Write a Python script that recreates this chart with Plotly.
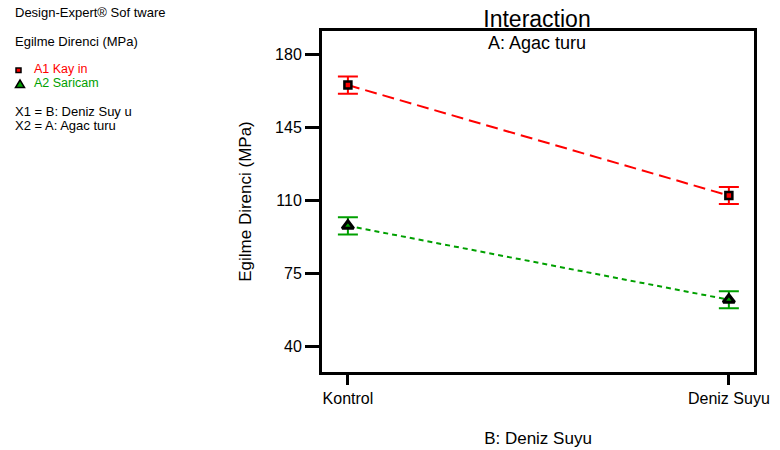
import plotly.graph_objects as go

categories = ["Kontrol", "Deniz Suyu"]
a1_kayin = [165.3, 112.4]
a1_err = [4.1, 4.1]
a2_saricam = [97.9, 62.5]
a2_err = [4.1, 4.1]
y_ticks = [40, 75, 110, 145, 180]

FONT = "Liberation Sans, Arial, sans-serif"
L, R, T, B = 322, 26, 31, 78
W, H = 780, 450
PW, PH = W - L - R, H - T - B


def px(x):
    return (x - L) / PW


def py(y):
    return (H - B - y) / PH


xnum = list(range(len(categories)))

fig = go.Figure()
fig.add_trace(go.Scatter(
    x=xnum, y=a1_kayin, mode="lines+markers", name="A1 Kayin",
    line=dict(color="#ff0000", width=2, dash="12px,6px"),
    marker=dict(symbol="square", size=7, color="#ff0000", line=dict(color="black", width=2.5)),
    error_y=dict(type="data", array=a1_err, color="#ff0000", thickness=2, width=10),
))
fig.add_trace(go.Scatter(
    x=xnum, y=a2_saricam, mode="lines+markers", name="A2 Saricam",
    line=dict(color="#00a000", width=2, dash="5px,4px"),
    marker=dict(symbol="triangle-up", size=10, color="#00a000", line=dict(color="black", width=3)),
    error_y=dict(type="data", array=a2_err, color="#00a000", thickness=2, width=10),
))

fig.update_layout(
    width=W, height=H, margin=dict(l=L, r=R, t=T, b=B, autoexpand=False),
    paper_bgcolor="white", plot_bgcolor="white",
    showlegend=False,
    font=dict(family=FONT, size=16, color="black"),
    title=dict(text="Interaction", xref="paper", x=px(537), xanchor="center",
               yref="container", y=1 - 19 / H, yanchor="middle",
               font=dict(size=23, family=FONT)),
)
fig.update_xaxes(
    range=[-0.068, 1.066], tickvals=xnum, ticktext=categories,
    showline=True, linecolor="black", linewidth=3, mirror=True,
    ticks="outside", ticklen=10, tickwidth=3, tickcolor="black",
    showgrid=False, zeroline=False, automargin=False,
    title=dict(text="B: Deniz Suyu", standoff=26, font=dict(size=17)),
)
fig.update_yaxes(
    range=[27.9, 191.2], tickvals=y_ticks,
    showline=True, linecolor="black", linewidth=3, mirror=True,
    ticks="outside", ticklen=14, tickwidth=3, tickcolor="black",
    showgrid=False, zeroline=False, automargin=False,
    title=dict(text="Egilme Direnci (MPa)", standoff=20, font=dict(size=17)),
)

fig.add_annotation(text="A: Agac turu", xref="paper", yref="paper", x=px(537), y=py(43),
                   xanchor="center", yanchor="middle", showarrow=False,
                   font=dict(size=18, color="black", family=FONT))

left_texts = [
    ("Design-Expert® Sof tware", 13, 12.7, "black", 13),
    ("Egilme Direnci (MPa)", 13, 41.7, "black", 13),
    ("A1 Kay in", 31.5, 68.5, "#ff0000", 12.5),
    ("A2 Saricam", 31.5, 83, "#00a000", 12.5),
    ("X1 = B: Deniz Suy u", 13, 111.7, "black", 13),
    ("X2 = A: Agac turu", 13, 126, "black", 13),
]
for text, x, y, c, s in left_texts:
    fig.add_annotation(text=text, xref="paper", yref="paper", x=px(x), y=py(y),
                       xanchor="left", yanchor="middle", showarrow=False,
                       font=dict(size=s, color=c, family=FONT))

# legend glyphs
fig.add_shape(type="rect", xref="paper", yref="paper",
              x0=px(16), x1=px(21), y0=py(72.5), y1=py(68),
              fillcolor="#ff0000", line=dict(color="black", width=1.5))
fig.add_shape(type="path", xref="paper", yref="paper",
              path=f"M {px(15.5)} {py(87.5)} L {px(24.5)} {py(87.5)} L {px(20)} {py(80)} Z",
              fillcolor="#00a000", line=dict(color="black", width=1.5))

fig.write_html("out.html")
